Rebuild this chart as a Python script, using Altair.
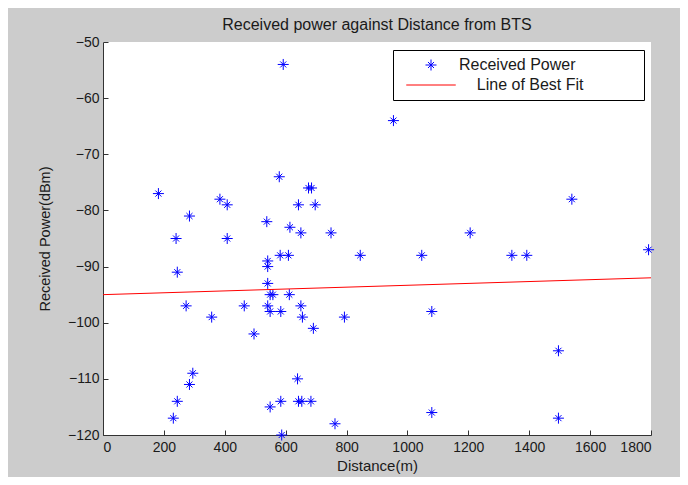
import altair as alt
import pandas as pd

# ---- data ----
distance = [592, 182, 579, 675, 685, 384, 408, 284, 642, 697,
            240, 408, 538, 614, 650, 749, 954, 1540, 1206, 1792,
            582, 609, 845, 541, 541, 244, 541, 549, 558, 612,
            273, 464, 541, 650, 549, 584, 357, 655, 793, 691,
            496, 295, 284, 639, 244, 584, 642, 653, 683, 549,
            231, 762, 587, 1047, 1343, 1392, 1080, 1496, 1080, 1496]
power = [-54, -77, -74, -76, -76, -78, -79, -81, -79, -79,
         -85, -85, -82, -83, -84, -84, -64, -78, -84, -87,
         -88, -88, -88, -89, -90, -91, -93, -95, -95, -95,
         -97, -97, -97, -97, -98, -98, -99, -99, -99, -101,
         -102, -109, -111, -110, -114, -114, -114, -114, -114, -115,
         -117, -118, -120, -88, -88, -88, -98, -105, -116, -117]

fit_x = [0, 1800]
fit_y = [-95, -92]

nb = "\u00a0"
zw = "\u200b"
series_names = ["Received Power", zw + nb * 4 + "Line of Best Fit" + nb * 12 + zw]
x_ticks = [0, 200, 400, 600, 800, 1000, 1200, 1400, 1600, 1800]
y_ticks = [-120, -110, -100, -90, -80, -70, -60, -50]

points = pd.DataFrame({"d": distance, "p": power, "series": series_names[0]})
fit = pd.DataFrame({"d": fit_x, "p": fit_y})

FONT = "Liberation Sans"
TXT = "#1a1a1a"
STAR = "M-1,0L1,0M0,-1L0,1M-0.55,-0.55L0.55,0.55M-0.55,0.55L0.55,-0.55"
LINE = "M-4.5,0L4.5,0"

W, H = 548, 393

xscale = alt.Scale(domain=[0, 1800], nice=False, zero=False)
yscale = alt.Scale(domain=[-120, -50], nice=False, zero=False)

legend = alt.Legend(
    title=None, orient="none", legendX=290, legendY=8,
    fillColor="white", strokeColor="black", padding=7,
    symbolSize=121, symbolStrokeWidth=1, symbolFillColor="transparent",
    symbolOffset=23,
    labelFont=FONT, labelFontSize=16, labelColor=TXT, labelOffset=20,
    labelLimit=400, rowPadding=4,
)

pts = alt.Chart(points).mark_point(filled=False, strokeWidth=1, size=121, opacity=1).encode(
    x=alt.X("d:Q", scale=xscale, title="Distance(m)",
            axis=alt.Axis(orient="bottom", values=x_ticks, format="d", ticks=False, tickSize=0,
                          labelPadding=5, grid=False, domainColor="#333333",
                          titlePadding=4, labelFontSize=14, titleFontSize=15)),
    y=alt.Y("p:Q", scale=yscale, title="Received Power(dBm)",
            axis=alt.Axis(orient="left", values=y_ticks, format="d", ticks=False, tickSize=0,
                          labelPadding=4, grid=False, domainColor="#333333",
                          titlePadding=15, labelFontSize=14, titleFontSize=14.5)),
    color=alt.Color("series:N", scale=alt.Scale(domain=series_names, range=["#0000ff", "#ff0000"]),
                    legend=legend),
    shape=alt.Shape("series:N", scale=alt.Scale(domain=series_names, range=[STAR, LINE]),
                    legend=legend),
)

line = alt.Chart(fit).mark_line(color="#ff0000", strokeWidth=1).encode(
    x=alt.X("d:Q", scale=xscale, title=None,
            axis=alt.Axis(orient="top", offset=-H, values=x_ticks, labels=False, domain=False,
                          ticks=True, tickSize=5, tickColor="#333333", grid=False)),
    y=alt.Y("p:Q", scale=yscale, title=None,
            axis=alt.Axis(orient="right", offset=-W, values=y_ticks, labels=False, domain=False,
                          ticks=True, tickSize=5, tickColor="#333333", grid=False)),
)

chart = (
    alt.layer(pts, line)
    .resolve_axis(x="independent", y="independent")
    .properties(
        width=W, height=H,
        title=alt.TitleParams("Received power against Distance from BTS", font=FONT,
                              fontSize=16, fontWeight="normal", color=TXT, offset=2),
        autosize=alt.AutoSizeParams(type="none"),
        padding={"left": 95, "top": 34, "right": 29, "bottom": 42},
        background="#cccccc",
    )
    .configure_view(fill="white", stroke=None)
    .configure_axis(labelFont=FONT, titleFont=FONT, labelColor=TXT, titleColor=TXT,
                    titleFontWeight="normal")
)

chart.save("out.html", embed_options={"renderer": "svg", "actions": False})
